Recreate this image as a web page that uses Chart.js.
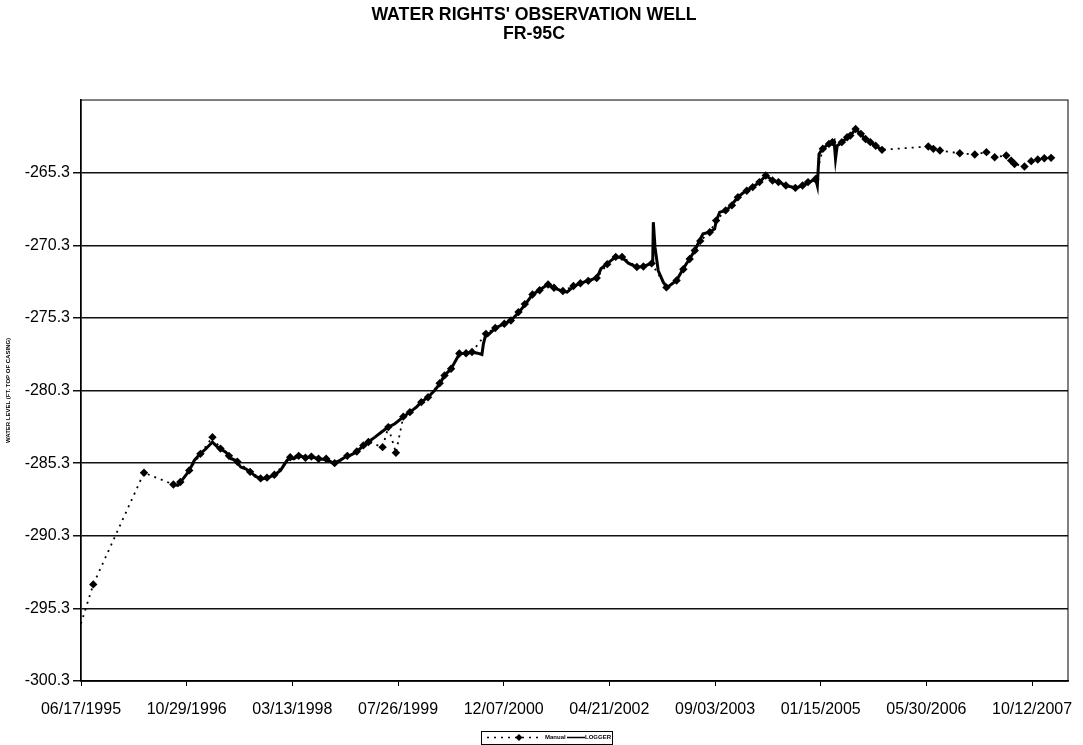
<!DOCTYPE html>
<html>
<head>
<meta charset="utf-8">
<title>FR-95C</title>
<script src="https://cdn.jsdelivr.net/npm/chart.js@4.4.1/dist/chart.umd.min.js"></script>
<style>
  html, body { margin: 0; padding: 0; background: #fff; }
  #wrap { width: 1083px; height: 745px; }
</style>
</head>
<body>
<div id="wrap"><canvas id="chartCanvas" width="1083" height="745"></canvas></div>
<script>
"use strict";

// days counted from 06/17/1995
const startDate = "06/17/1995";

const xTickLabels = ["06/17/1995", "10/29/1996", "03/13/1998", "07/26/1999", "12/07/2000",
  "04/21/2002", "09/03/2003", "01/15/2005", "05/30/2006", "10/12/2007"];
const yTickValues = [-300.3, -295.3, -290.3, -285.3, -280.3, -275.3, -270.3, -265.3];

const manualDays = [-40, 58, 298, 437, 470, 512, 565, 622, 660, 700, 740, 800, 850, 880, 915,
  990, 1030, 1062, 1090, 1124, 1160, 1200, 1260, 1305, 1336, 1360, 1427, 1454, 1490, 1525,
  1556, 1610, 1642, 1697, 1720, 1751, 1790, 1822, 1850, 1916, 1960, 2003, 2034, 2070, 2100,
  2136, 2170, 2210, 2238, 2280, 2330, 2363, 2400, 2440, 2490, 2530, 2560, 2630, 2661, 2700,
  2770, 2818, 2850, 2880, 2904, 2930, 2975, 3005, 3050, 3080, 3108, 3150, 3178, 3210, 3240,
  3272, 3300, 3335, 3380, 3414, 3440, 3475, 3510, 3539, 3555, 3600, 3625, 3640, 3665, 3690,
  3712, 3735, 3760, 3790,
  4009, 4033, 4064, 4158, 4229, 4284, 4323, 4378, 4401, 4417, 4464, 4496, 4527, 4558, 4590];
const manualLevels = [-298.2, -293.65, -285.96, -286.77, -286.6, -285.8, -284.66, -283.51,
  -284.3, -284.8, -285.2, -285.9, -286.35, -286.3, -286.1, -284.9, -284.8, -284.93, -284.85,
  -285.0, -285.0, -285.3, -284.8, -284.5, -284.08, -283.85, -284.2, -282.82, -284.59, -282.1,
  -281.79, -281.1, -280.76, -279.8, -279.26, -278.8, -277.75, -277.73, -277.65, -276.4, -276.0,
  -275.7, -275.48, -274.9, -274.35, -273.69, -273.4, -273.0, -273.23, -273.45, -273.1, -272.91,
  -272.75, -272.55, -271.6, -271.1, -271.1, -271.8, -271.76, -271.55, -273.2, -272.73, -271.95,
  -271.25, -270.66, -270.0, -269.4, -268.6, -267.9, -267.55, -266.99, -266.55, -266.3, -265.95,
  -265.5, -265.84, -265.95, -266.19, -266.35, -266.19, -265.95, -265.75, -263.65, -263.32,
  -263.2, -263.2, -262.86, -262.75, -262.29, -262.63, -262.98, -263.2, -263.45, -263.73,
  -263.5, -263.66, -263.78, -263.96, -264.05, -263.89, -264.24, -264.12, -264.47, -264.7,
  -264.88, -264.51, -264.4, -264.31, -264.28];

const loggerDays = [437, 458, 489, 513, 536, 564, 591, 622, 646, 685, 709, 732, 756, 779, 803,
  826, 858, 889, 913, 944, 975, 991, 1007, 1030, 1062, 1093, 1124, 1163, 1195, 1226, 1250,
  1273, 1305, 1336, 1359, 1391, 1422, 1454, 1485, 1524, 1556, 1587, 1610, 1642, 1673, 1697,
  1720, 1751, 1791, 1822, 1853, 1877, 1897, 1904, 1916, 1924, 1963, 2002, 2034, 2073, 2104,
  2136, 2167, 2206, 2238, 2277, 2300, 2332, 2363, 2402, 2441, 2460, 2488, 2528, 2559, 2590,
  2630, 2661, 2692, 2705, 2708, 2716, 2731, 2755, 2771, 2786, 2818, 2849, 2880, 2904, 2927,
  2943, 2975, 2998, 3006, 3022, 3053, 3076, 3108, 3147, 3178, 3210, 3241, 3272, 3304, 3335,
  3382, 3414, 3445, 3476, 3484, 3492, 3508, 3539, 3563, 3570, 3578, 3602, 3625, 3641, 3665,
  3688, 3712, 3735, 3759, 3790];
const loggerLevels = [-286.77, -286.83, -286.26, -285.8, -285.11, -284.66, -284.31, -283.85,
  -284.2, -284.54, -285.0, -285.11, -285.57, -285.69, -285.92, -286.22, -286.38, -286.26,
  -286.15, -285.8, -285.11, -284.93, -285.0, -284.77, -284.93, -284.88, -285.0, -285.07,
  -285.3, -285.11, -284.88, -284.77, -284.54, -284.08, -283.85, -283.51, -283.16, -282.82,
  -282.59, -282.13, -281.79, -281.44, -281.1, -280.76, -280.3, -279.84, -279.26, -278.81,
  -277.77, -277.73, -277.66, -277.73, -277.82, -277.09, -276.4, -276.51, -275.98, -275.71,
  -275.48, -274.9, -274.33, -273.69, -273.41, -273.02, -273.23, -273.46, -273.53, -273.12,
  -272.91, -272.73, -272.54, -271.92, -271.58, -271.12, -271.12, -271.53, -271.81, -271.76,
  -271.58, -271.53, -268.71, -270.43, -272.04, -272.84, -273.18, -273.07, -272.73, -271.92,
  -271.23, -270.66, -269.97, -269.51, -269.4, -269.17, -268.6, -268.02, -267.91, -267.56,
  -266.99, -266.53, -266.3, -265.96, -265.5, -265.84, -265.96, -266.19, -266.35, -266.19,
  -265.96, -265.73, -266.19, -264.01, -263.66, -263.32, -263.09, -264.35, -263.44, -263.21,
  -262.86, -262.75, -262.29, -262.63, -262.98, -263.21, -263.44, -263.73];

const fontFamily = "'Liberation Sans', Arial, sans-serif";

function daysFrom(label) {
  const [m, d, y] = label.split("/").map(Number);
  const [m0, d0, y0] = startDate.split("/").map(Number);
  return (Date.UTC(y, m - 1, d) - Date.UTC(y0, m0 - 1, d0)) / 86400000;
}

const toPoints = (xs, ys) => xs.map((x, i) => ({ x: x, y: ys[i] }));

// frame round the plot area
const plotFrame = {
  id: "plotFrame",
  afterDraw(chart) {
    const { ctx, chartArea: a } = chart;
    ctx.save();
    ctx.strokeStyle = "#000";
    ctx.lineWidth = 1;
    ctx.strokeRect(a.left, a.top, a.right - a.left, a.bottom - a.top);
    ctx.restore();
  },
};

// small boxed legend under the axis, like the original
const boxLegend = {
  id: "boxLegend",
  afterDraw(chart) {
    const ctx = chart.ctx;
    const [manual, logger] = chart.data.datasets;
    const x0 = 481, y0 = 731, w = 131, h = 13, cy = y0 + h / 2;
    ctx.save();
    ctx.strokeStyle = "#000";
    ctx.lineWidth = 1;
    ctx.strokeRect(x0 + 0.5, y0 + 0.5, w, h);

    ctx.setLineDash([2, 5]);
    ctx.lineWidth = 1.5;
    ctx.beginPath();
    ctx.moveTo(x0 + 6, cy);
    ctx.lineTo(x0 + 58, cy);
    ctx.stroke();
    ctx.setLineDash([]);
    ctx.fillStyle = "#000";
    ctx.beginPath();
    ctx.moveTo(x0 + 38, cy - 3.5);
    ctx.lineTo(x0 + 41.5, cy);
    ctx.lineTo(x0 + 38, cy + 3.5);
    ctx.lineTo(x0 + 34.5, cy);
    ctx.closePath();
    ctx.fill();

    ctx.font = "bold 6px " + fontFamily;
    ctx.textBaseline = "middle";
    ctx.fillText(manual.label, x0 + 64, cy);

    ctx.lineWidth = 1.5;
    ctx.beginPath();
    ctx.moveTo(x0 + 86, cy);
    ctx.lineTo(x0 + 104, cy);
    ctx.stroke();
    ctx.fillText(logger.label, x0 + 104, cy);
    ctx.restore();
  },
};

const ctx = document.getElementById("chartCanvas").getContext("2d");

new Chart(ctx, {
  type: "line",
  data: {
    datasets: [
      {
        label: "Manual",
        data: toPoints(manualDays, manualLevels),
        borderColor: "#000",
        borderWidth: 1.8,
        borderDash: [2, 5],
        pointStyle: "rectRot",
        pointRadius: 4.2,
        pointBackgroundColor: "#000",
        pointBorderColor: "#000",
        pointBorderWidth: 0,
        tension: 0,
      },
      {
        label: "LOGGER",
        data: toPoints(loggerDays, loggerLevels),
        borderColor: "#000",
        borderWidth: 3,
        pointRadius: 0,
        tension: 0,
      },
    ],
  },
  options: {
    responsive: false,
    animation: false,
    layout: { padding: { left: 0, right: 15, top: 0, bottom: 0 } },
    plugins: {
      legend: { display: false },
      tooltip: { enabled: false },
      title: {
        display: true,
        text: ["WATER RIGHTS' OBSERVATION WELL", "FR-95C"],
        color: "#000",
        font: { family: fontFamily, size: 17.7, weight: "bold", lineHeight: 1.06 },
        padding: { top: 6, bottom: 56.5 },
      },
    },
    scales: {
      x: {
        type: "linear",
        min: 0,
        max: 4670,
        afterBuildTicks: (scale) => {
          scale.ticks = xTickLabels.map((l) => ({ value: daysFrom(l) }));
        },
        afterFit: (scale) => {
          scale.height = 64;
          scale.paddingLeft = 0;
          scale.paddingRight = 0;
        },
        ticks: {
          color: "#000",
          font: { family: fontFamily, size: 16 },
          padding: 14,
          maxRotation: 0,
          autoSkip: false,
          callback: (v, i) => xTickLabels[i],
        },
        grid: { drawOnChartArea: false, drawTicks: true, tickLength: 5, color: "#000", lineWidth: 1 },
        border: { color: "#000", width: 1.5 },
      },
      y: {
        min: -300.3,
        max: -260.3,
        afterBuildTicks: (scale) => {
          scale.ticks = yTickValues.map((v) => ({ value: v }));
        },
        afterFit: (scale) => {
          scale.width = 81;
        },
        title: {
          display: true,
          text: "WATER LEVEL (FT. TOP OF CASING)",
          color: "#000",
          font: { family: fontFamily, size: 6, weight: "bold" },
          padding: { top: 5, bottom: 0 },
        },
        ticks: {
          color: "#000",
          font: { family: fontFamily, size: 16 },
          padding: 3,
          callback: (v) => v.toFixed(1),
        },
        grid: { color: "#111", lineWidth: 1.5, tickLength: 8 },
        border: { color: "#000", width: 1.5 },
      },
    },
  },
  plugins: [plotFrame, boxLegend],
});
</script>
</body>
</html>
